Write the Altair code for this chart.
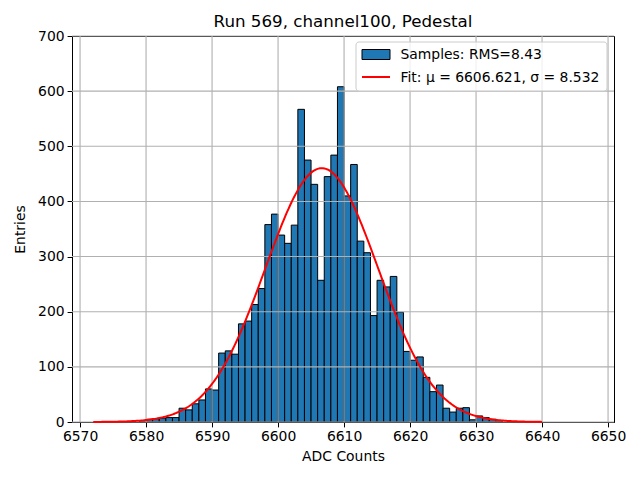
import altair as alt
import numpy as np
import pandas as pd

# ---- data ----
bin_left = list(range(6579, 6634))
counts = [2, 5, 6, 7, 8, 8, 25, 22, 33, 40, 60, 58, 125, 129, 123,
          178, 183, 213, 242, 358, 377, 339, 324, 357, 567, 475, 431,
          257, 445, 484, 608, 410, 467, 328, 307, 193, 257, 245, 264,
          199, 128, 112, 118, 81, 55, 67, 25, 18, 25, 26, 4, 11, 8, 5, 2]
fit_mu = 6606.621
fit_sigma = 8.532
rms = 8.43
x_ticks = [6570, 6580, 6590, 6600, 6610, 6620, 6630, 6640, 6650]
y_ticks = [0, 100, 200, 300, 400, 500, 600, 700]
fit_range = (6572, 6640)

bars = pd.DataFrame({"x": bin_left, "x2": [b + 1 for b in bin_left], "n": counts})
norm = sum(counts) * 1.0 / (fit_sigma * np.sqrt(2 * np.pi))
fx = np.linspace(fit_range[0], fit_range[1], 300)
fit = pd.DataFrame({"x": fx, "y": norm * np.exp(-0.5 * ((fx - fit_mu) / fit_sigma) ** 2)})

W, H = 542, 386
FONT = "DejaVu Sans"
xs = alt.Scale(domain=[6568.78, 6650.9], nice=False, zero=False)
ys = alt.Scale(domain=[0, 700], nice=False)

base = alt.Chart(bars)

rects = base.mark_rect(fill="#1f77b4", stroke="black", strokeWidth=1).encode(
    x=alt.X("x:Q", scale=xs,
            axis=alt.Axis(values=x_ticks, title="ADC Counts", grid=False, format="d")),
    x2="x2:Q",
    y=alt.Y("n:Q", scale=ys,
            axis=alt.Axis(values=y_ticks, title="Entries", grid=False, format="d")),
    y2=alt.datum(0),
)

xgrid = alt.Chart(pd.DataFrame({"v": x_ticks})).mark_rule(color="#b0b0b0", strokeWidth=1.1).encode(
    x=alt.X("v:Q", scale=xs))
ygrid = alt.Chart(pd.DataFrame({"v": y_ticks})).mark_rule(color="#b0b0b0", strokeWidth=1.1).encode(
    y=alt.Y("v:Q", scale=ys))

line = alt.Chart(fit).mark_line(color="red", strokeWidth=2).encode(
    x=alt.X("x:Q", scale=xs), y=alt.Y("y:Q", scale=ys))

# legend (drawn manually, matplotlib style)
leg_box = alt.Chart(pd.DataFrame({"a": [0]})).mark_rect(
    fill="white", fillOpacity=0.8, stroke="#cccccc", strokeWidth=1, cornerRadius=3
).encode(x=alt.value(284), x2=alt.value(535), y=alt.value(6), y2=alt.value(55))
leg_patch = alt.Chart(pd.DataFrame({"a": [0]})).mark_rect(
    fill="#1f77b4", stroke="black", strokeWidth=1
).encode(x=alt.value(290), x2=alt.value(318), y=alt.value(13.5), y2=alt.value(23.5))
leg_line = alt.Chart(pd.DataFrame({"a": [0]})).mark_rule(color="red", strokeWidth=2).encode(
    x=alt.value(290), x2=alt.value(318), y=alt.value(41))
leg_text = alt.Chart(pd.DataFrame({
    "t": [f"Samples: RMS={rms:.2f}", f"Fit: \u03bc = {fit_mu:.3f}, \u03c3 = {fit_sigma:.3f}"],
    "yy": [18.5, 41.5]})).mark_text(
    align="left", baseline="middle", font=FONT, fontSize=13.9, color="black"
).encode(x=alt.value(328.5), y=alt.Y("yy:Q", scale=None, axis=None), text="t:N")

chart = alt.layer(rects, xgrid, ygrid, line, leg_box, leg_patch, leg_line, leg_text).properties(
    width=W, height=H,
    title=alt.TitleParams("Run 569, channel100, Pedestal", font=FONT, fontSize=16.7,
                          fontWeight="normal", color="black", offset=7, dy=9),
    autosize=alt.AutoSizeParams(type="none"),
    padding={"left": 64, "top": 28, "right": 18, "bottom": 50},
).configure_view(stroke="black", strokeWidth=1).configure_axis(
    labelFont=FONT, titleFont=FONT, labelFontSize=13.9, titleFontSize=13.9,
    labelColor="black", titleColor="black", titleFontWeight="normal",
    domainColor="black", tickColor="black", tickSize=4.9, labelPadding=3,
    domainWidth=1, tickWidth=1,
).configure_axisX(titlePadding=6).configure_axisY(titlePadding=10)

chart.save("out.html", embed_options={"renderer": "svg", "actions": False})
